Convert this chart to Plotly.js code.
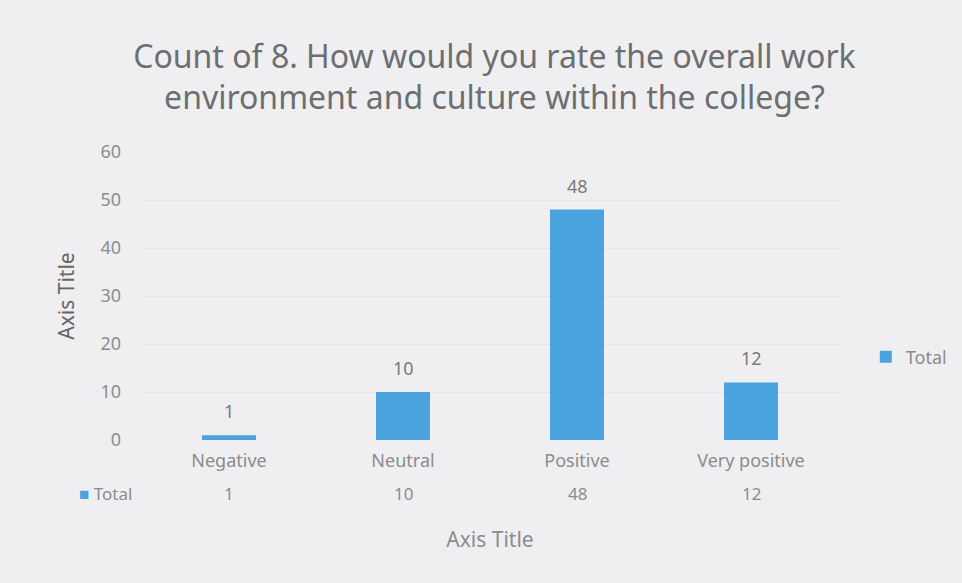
<!DOCTYPE html>
<html><head><meta charset="utf-8">
<script src="https://cdn.plot.ly/plotly-3.0.1.min.js"></script>
<style>html,body{margin:0;padding:0;background:#efeff1;}#c{width:962px;height:583px;}</style>
</head><body><div id="c"></div>
<script>
const categories = ["Negative", "Neutral", "Positive", "Very positive"];
const totals = [1, 10, 48, 12];
const seriesName = "Total";
const yTicks = [0, 10, 20, 30, 40, 50, 60];

const barColor = "#4aa2de";
const txt = "#8c8c8c";
const font = "Noto Sans, Open Sans, sans-serif";

const annotations = [];
categories.forEach((c, i) => {
  annotations.push({x: c, y: totals[i], xref: "x", yref: "y", text: String(totals[i]),
    showarrow: false, yanchor: "bottom", yshift: 10, font: {family: font, size: 18, color: "#7a7a7a"}});
  annotations.push({x: c, y: -0.187, xref: "x", yref: "paper", text: String(totals[i]),
    showarrow: false, yanchor: "middle", font: {family: font, size: 17, color: txt}});
});
annotations.push({x: -0.012, xanchor: "right", y: -0.187, xref: "paper", yref: "paper",
  text: "<span style='color:" + barColor + "'>■</span> " + seriesName, showarrow: false,
  yanchor: "middle", font: {family: font, size: 17, color: txt}});

const data = [{
  type: "bar", x: categories, y: totals, name: seriesName,
  marker: {color: barColor}, width: 0.31, showlegend: true
}];

const layout = {
  width: 962, height: 583,
  paper_bgcolor: "#efeff1", plot_bgcolor: "#efeff1",
  margin: {l: 142, r: 124, t: 152, b: 143, autoexpand: false},
  title: {text: "Count of 8. How would you rate the overall work<br>environment and culture within the college?",
    x: 0.514, xref: "container", xanchor: "center", yref: "container", y: 0.884, yanchor: "middle",
    font: {family: font, size: 32, color: "#6c6e70"}},
  xaxis: {type: "category", tickfont: {family: font, size: 18, color: txt}, automargin: false,
    showgrid: false, showline: false, zeroline: false, ticks: "", ticklabelstandoff: 8,
    title: {text: "Axis Title", standoff: 61, font: {family: font, size: 21, color: txt}}},
  yaxis: {range: [0, 60], tickvals: yTicks, tickfont: {family: font, size: 18, color: txt}, automargin: false,
    showgrid: true, gridcolor: "#e4e4e8", gridwidth: 1, zeroline: false, showline: false, ticks: "",
    ticklabelstandoff: 20,
    title: {text: "Axis Title", standoff: 20, font: {family: font, size: 21, color: "#666"}}},
  legend: {x: 0.9, xref: "container", xanchor: "left", y: 0.288, yanchor: "middle", bgcolor: "rgba(0,0,0,0)",
    font: {family: font, size: 18, color: txt}, itemwidth: 30},
  annotations: annotations,
  bargap: 0.69
};
Plotly.newPlot("c", data, layout, {displayModeBar: false, staticPlot: true});
</script></body></html>
